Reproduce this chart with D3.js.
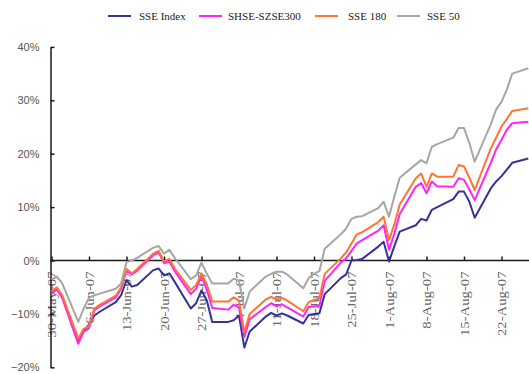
<!DOCTYPE html>
<html>
<head>
<meta charset="utf-8">
<script src="https://cdn.jsdelivr.net/npm/d3@7"></script>
<style>
  html, body { margin: 0; padding: 0; background: #fff; }
  svg { display: block; }
</style>
</head>
<body>
<svg id="chart" width="529" height="374"></svg>
<script>
// ---------------- data ----------------
const dates = ["2007-05-30","2007-05-31","2007-06-01","2007-06-04","2007-06-05","2007-06-06","2007-06-07","2007-06-08",
  "2007-06-11","2007-06-12","2007-06-13","2007-06-14","2007-06-15","2007-06-18","2007-06-19","2007-06-20","2007-06-21","2007-06-22",
  "2007-06-25","2007-06-26","2007-06-27","2007-06-28","2007-06-29","2007-07-02","2007-07-03","2007-07-04","2007-07-05","2007-07-06",
  "2007-07-09","2007-07-10","2007-07-11","2007-07-12","2007-07-13","2007-07-16","2007-07-17","2007-07-18","2007-07-19","2007-07-20",
  "2007-07-23","2007-07-24","2007-07-25","2007-07-26","2007-07-27","2007-07-30","2007-07-31","2007-08-01","2007-08-02","2007-08-03",
  "2007-08-06","2007-08-07","2007-08-08","2007-08-09","2007-08-10","2007-08-13","2007-08-14","2007-08-15","2007-08-16","2007-08-17",
  "2007-08-20","2007-08-21","2007-08-22","2007-08-23","2007-08-24","2007-08-27"];

const seriesNames = ["SSE Index", "SHSE-SZSE300", "SSE 180", "SSE 50"];

const sseIndex = [-6.0,-5.3,-6.8,-14.8,-13.2,-12.0,-10.3,-9.6,
  -7.8,-6.5,-3.7,-4.9,-4.6,-1.8,-1.5,-2.8,-2.4,-4.0,
  -9.0,-8.0,-5.6,-7.5,-11.5,-11.5,-11.2,-10.3,-16.3,-13.3,
  -10.5,-9.8,-10.3,-9.9,-10.3,-11.8,-10.2,-10.0,-9.9,-6.3,
  -3.3,-2.6,0.0,0.1,0.3,2.6,3.5,-0.2,2.7,5.4,
  6.6,7.8,7.5,9.5,10.0,11.5,12.9,12.9,11.0,8.0,
  13.5,14.8,15.8,17.0,18.3,19.1];

const hs300 = [-6.2,-5.4,-7.0,-15.6,-13.3,-12.7,-9.3,-8.6,
  -6.9,-5.3,-1.9,-2.6,-1.9,1.0,1.5,-0.5,-0.2,-2.0,
  -6.3,-5.3,-2.8,-5.5,-8.9,-9.2,-8.3,-8.8,-14.3,-11.0,
  -8.7,-8.0,-8.6,-8.2,-8.8,-10.5,-8.7,-8.6,-8.5,-3.8,
  -0.4,0.4,1.8,3.2,3.8,5.6,6.6,2.0,5.0,8.7,
  13.8,14.5,12.6,14.8,13.9,13.8,15.4,15.1,13.3,11.3,
  18.3,20.8,22.6,24.5,25.7,26.0];

const sse180 = [-5.8,-5.0,-6.5,-14.6,-12.8,-12.3,-9.0,-8.3,
  -6.6,-5.0,-1.6,-2.4,-1.6,1.3,1.8,-0.2,0.3,-1.5,
  -5.5,-4.6,-2.4,-4.5,-7.7,-7.7,-6.9,-7.5,-13.5,-10.0,
  -7.3,-6.8,-7.3,-7.0,-7.5,-9.5,-7.8,-7.4,-7.1,-2.5,
  0.4,1.5,3.2,4.9,5.3,7.2,8.2,3.8,6.8,10.5,
  15.4,16.3,13.8,16.3,15.7,15.7,17.9,17.6,15.5,13.2,
  21.0,23.0,25.1,26.5,28.0,28.5];

const sse50 = [-3.6,-3.0,-4.3,-11.5,-9.0,-7.0,-6.5,-6.2,
  -5.3,-4.3,-0.3,0.0,0.5,2.4,2.7,1.3,2.0,0.5,
  -3.5,-2.8,-0.4,-2.5,-4.3,-4.3,-3.4,-3.8,-9.0,-5.8,
  -3.0,-2.5,-2.1,-2.1,-2.6,-5.2,-3.3,-2.5,-2.0,2.2,
  4.9,6.0,7.8,8.2,8.3,9.8,11.0,8.2,12.0,15.5,
  18.0,18.8,18.2,21.3,21.8,23.0,24.8,24.8,22.0,18.5,
  25.5,28.3,29.7,32.0,35.0,36.0];

const yTicks = [-20, -10, 0, 10, 20, 30, 40];
const xTickDates = ["2007-05-30","2007-06-06","2007-06-13","2007-06-20","2007-06-27","2007-07-04","2007-07-11",
  "2007-07-18","2007-07-25","2007-08-01","2007-08-08","2007-08-15","2007-08-22"];

// ---------------- layout / style ----------------
const colors = ["#333399", "#ff22ff", "#ff7333", "#a6a6a6"];
const values = [sseIndex, hs300, sse180, sse50];

const parse = d3.utcParse("%Y-%m-%d");
const dayPx = 37.5 / 7;

const svg = d3.select("#chart");
svg.append("rect").attr("width", 529).attr("height", 374).attr("fill", "#fff");

const x0 = 51.5;
const x = d3.scaleUtc()
  .domain([parse("2007-05-30"), parse("2007-08-28")])
  .range([x0, x0 + 90 * dayPx]);

const y = d3.scaleLinear().domain([-20, 40]).range([367.3, 46.9]);
const axisX = 50.5;

// ---------------- x axis (at 0%) ----------------
const fmt = d3.utcFormat("%-d-%b-%y");
const xAxis = d3.axisBottom(x)
  .tickValues(xTickDates.map(parse))
  .tickFormat(fmt)
  .tickSizeInner(-4)
  .tickSizeOuter(0);

const gx = svg.append("g")
  .attr("transform", `translate(0,${y(0)})`)
  .call(xAxis);
gx.select(".domain").attr("stroke", "#1a1a1a").attr("stroke-width", 1.5)
  .attr("d", `M${axisX},0H540`);
gx.selectAll(".tick line").attr("stroke", "#1a1a1a").attr("stroke-width", 1.5);
gx.selectAll(".tick text")
  .attr("x", 0).attr("y", 0).attr("dy", "0.35em")
  .attr("text-anchor", "end")
  .attr("transform", "translate(0,11) rotate(-90) scale(1.28,1)")
  .attr("font-family", "'Liberation Serif', 'Times New Roman', serif")
  .attr("font-size", 11.5)
  .attr("fill", "#666");

// ---------------- y axis ----------------
const yAxis = d3.axisLeft(y)
  .tickValues(yTicks)
  .tickFormat(d => d3.format("d")(d) + "%")
  .tickSizeInner(-4)
  .tickSizeOuter(0)
  .tickPadding(11);

const gy = svg.append("g")
  .attr("transform", `translate(${axisX},0)`)
  .call(yAxis);
gy.select(".domain").attr("stroke", "#1a1a1a").attr("stroke-width", 1.5);
gy.selectAll(".tick line").attr("stroke", "#1a1a1a").attr("stroke-width", 1.5);
gy.selectAll(".tick text")
  .attr("font-family", "'Liberation Sans', Arial, sans-serif")
  .attr("font-size", 11)
  .attr("fill", "#555");

// ---------------- lines ----------------
const dateObjs = dates.map(parse);
const line = d3.line()
  .x((d, i) => x(dateObjs[i]))
  .y(d => y(d));

svg.append("defs").append("clipPath").attr("id", "clip")
  .append("rect").attr("x", 0).attr("y", 0).attr("width", 529).attr("height", 374);

const gl = svg.append("g").attr("clip-path", "url(#clip)");
values.forEach((vals, k) => {
  gl.append("path")
    .datum(vals)
    .attr("d", line)
    .attr("fill", "none")
    .attr("stroke", colors[k])
    .attr("stroke-width", 2)
    .attr("stroke-linejoin", "round");
});

// ---------------- legend ----------------
const legendItems = [
  { lx: 108, tx: 139 },
  { lx: 199, tx: 228 },
  { lx: 315, tx: 348 },
  { lx: 397, tx: 427 }
];
const gLeg = svg.append("g");
seriesNames.forEach((name, k) => {
  const it = legendItems[k];
  gLeg.append("line")
    .attr("x1", it.lx).attr("x2", it.lx + 23)
    .attr("y1", 16).attr("y2", 16)
    .attr("stroke", colors[k]).attr("stroke-width", 2);
  gLeg.append("text")
    .attr("x", it.tx).attr("y", 20)
    .attr("font-family", "'Liberation Serif', 'Times New Roman', serif")
    .attr("font-size", 11)
    .attr("fill", "#222")
    .text(name);
});
</script>
</body>
</html>
